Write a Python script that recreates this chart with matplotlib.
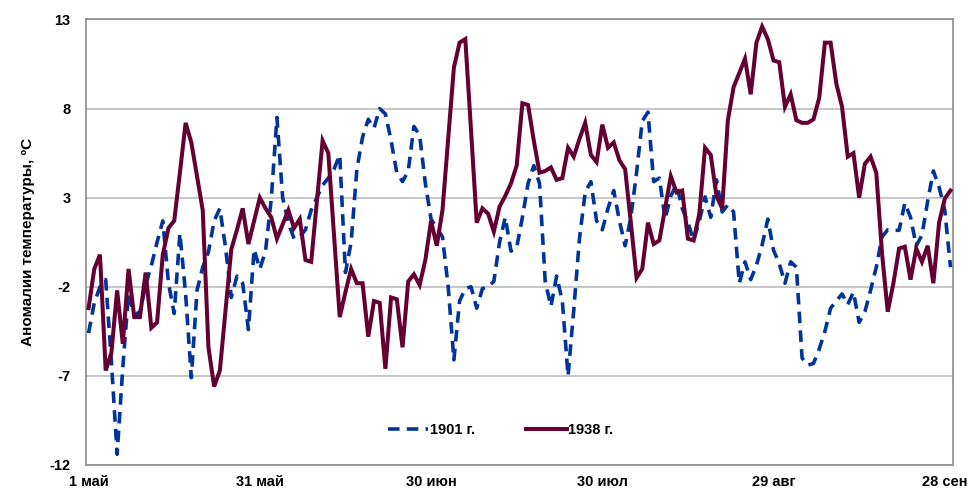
import matplotlib
matplotlib.use("Agg")
import matplotlib.pyplot as plt
import numpy as np

# Temperature anomalies (°C), daily from 1 May (152 days)
y1901 = [
    -4.6, -2.9, -2.0, -1.6, -6.2, -11.4, -6.5, -2.4, -3.6, -3.4,
    -1.9, -0.8, 0.5, 1.7, -1.8, -3.5, 1.0, -2.4, -7.1, -2.2,
    -0.9, -0.05, 1.7, 2.4, 0.2, -2.6, -1.4, -1.8, -4.4, 0.1,
    -1.0, 0.0, 2.9, 7.5, 3.0, 1.6, 0.7, 0.8, 1.2, 2.3,
    3.0, 3.7, 4.1, 4.6, 5.4, -1.2, 0.5, 4.6, 6.4, 7.4,
    6.9, 8.0, 7.7, 6.2, 4.4, 3.9, 4.5, 7.0, 6.5, 3.8,
    1.8, 1.3, 0.8, -2.0, -6.1, -2.8, -2.1, -2.0, -3.2, -2.1,
    -2.0, -1.7, 0.5, 1.9, 0.0, 0.2, 1.9, 3.8, 4.8, 3.8,
    -1.7, -3.1, -1.4, -2.8, -7.0, -3.3, 0.7, 3.3, 3.9, 1.7,
    1.2, 2.4, 3.4, 1.7, 0.3, 1.9, 4.4, 7.3, 7.8, 3.9,
    4.1, 1.8, 3.1, 3.75, 2.4, 1.6, 0.6, 1.7, 3.05, 1.9,
    4.0, 2.2, 2.6, 2.2, -1.8, -0.6, -1.6, -0.8, 0.35, 1.8,
    0.05, -0.7, -1.8, -0.6, -0.9, -6.0, -6.4, -6.3, -5.5, -4.5,
    -3.2, -2.8, -2.4, -3.0, -2.3, -4.0, -3.4, -2.2, -0.9, 0.8,
    1.2, 1.17, 1.17, 2.7, 1.9, 0.3, 0.9, 2.8, 4.5, 3.6,
    2.3, -0.9,
]
y1938 = [
    -3.2, -1.0, -0.2, -6.7, -5.7, -2.2, -5.2, -1.0, -3.7, -3.7,
    -1.2, -4.3, -4.0, -0.2, 1.3, 1.7, 4.4, 7.2, 6.1, 4.2,
    2.3, -5.4, -7.6, -6.7, -3.3, 0.1, 1.2, 2.4, 0.4, 1.7,
    3.0, 2.4, 1.9, 0.7, 1.5, 2.3, 1.3, 1.8, -0.5, -0.6,
    2.8, 6.2, 5.5, 0.9, -3.7, -2.3, -1.0, -1.8, -1.8, -4.8,
    -2.8, -2.9, -6.6, -2.6, -2.7, -5.4, -1.7, -1.3, -1.9, -0.5,
    1.7, 0.3, 2.3, 6.3, 10.3, 11.7, 11.9, 6.8, 1.6, 2.4,
    2.1, 1.1, 2.5, 3.1, 3.8, 4.8, 8.3, 8.2, 6.2, 4.4,
    4.5, 4.7, 4.0, 4.1, 5.8, 5.3, 6.3, 7.2, 5.4, 5.0,
    7.1, 5.8, 6.1, 5.1, 4.6, 1.6, -1.5, -1.0, 1.6, 0.4,
    0.6, 2.4, 4.2, 3.3, 3.4, 0.7, 0.6, 2.1, 5.8, 5.4,
    3.1, 2.4, 7.35, 9.2, 10.0, 10.8, 8.8, 11.7, 12.6, 11.9,
    10.7, 10.6, 8.1, 8.8, 7.35, 7.2, 7.2, 7.4, 8.6, 11.7,
    11.7, 9.4, 8.1, 5.3, 5.5, 3.0, 4.9, 5.3, 4.4, -0.1,
    -3.4, -1.8, 0.15, 0.25, -1.6, 0.15, -0.6, 0.3, -1.8, 1.6,
    2.95, 3.4,
]
x_tick_pos = [0, 30, 60, 90, 120, 150]
x_tick_labels = ["1 май", "31 май", "30 июн", "30 июл", "29 авг", "28 сен"]
y_ticks = [-12, -7, -2, 3, 8, 13]
series_labels = ["1901 г.", "1938 г."]

days = np.arange(len(y1938))

plt.rcParams['font.family'] = ['Liberation Sans', 'DejaVu Sans']
plt.rcParams['axes.unicode_minus'] = False

fig = plt.figure(figsize=(9.73, 4.91), dpi=100)
ax = fig.add_axes([0.0881, 0.053, 0.8917, 0.9073])

ax.plot(days, y1901, color='#00349a', linewidth=2.6, linestyle=(0, (3.2, 2.0)),
        label=series_labels[0], zorder=3, dash_capstyle='butt')
ax.plot(days, y1938, color='#650033', linewidth=2.9, label=series_labels[1], zorder=4,
        solid_joinstyle='miter')

ax.set_xlim(-0.5, len(days) - 0.5)
ax.set_ylim(-12, 13)
ax.set_yticks(y_ticks)
ax.set_xticks(x_tick_pos)
ax.set_xticklabels(x_tick_labels)
ax.grid(axis='y', color='#bdbdbd', linewidth=1.2)
ax.set_axisbelow(True)
for s in ax.spines.values():
    s.set_color('#8c8c8c')
    s.set_linewidth(1.2)
ax.tick_params(axis='both', length=0, labelsize=10.5)
ax.tick_params(axis='x', pad=7)
ax.tick_params(axis='y', pad=11)
for lbl in ax.get_xticklabels() + ax.get_yticklabels():
    lbl.set_fontweight('bold')

ax.set_ylabel("Аномалии температуры, ºC", fontsize=11, fontweight='bold', labelpad=10)

leg = ax.legend(loc='center', bbox_to_anchor=(0.478, 0.079), ncol=2, frameon=False,
                prop={'weight': 'bold', 'size': 10.5}, handlelength=2.8, columnspacing=3.5,
                handletextpad=0.1)

fig.savefig("out.png", dpi=100)
